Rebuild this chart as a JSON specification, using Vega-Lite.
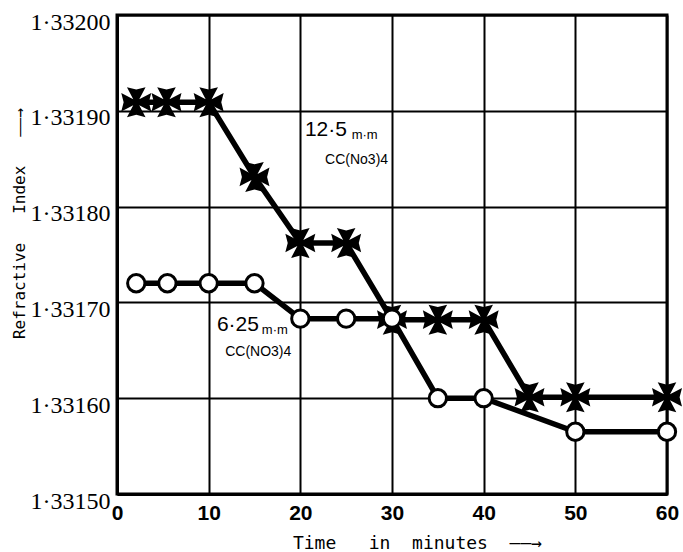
{
  "$schema": "https://vega.github.io/schema/vega-lite/v6.json",
  "width": 550,
  "height": 479,
  "autosize": "none",
  "padding": {"left": 117, "top": 15, "right": 16, "bottom": 58},
  "background": "white",
  "config": {
    "view": {"stroke": "black", "strokeWidth": 3},
    "axis": {"gridColor": "black", "gridOpacity": 1, "gridWidth": 2, "domainColor": "black", "domainWidth": 3, "ticks": false, "labelColor": "black", "titleColor": "black"}
  },
  "datasets": {
    "main": [
      {"series": "12.5", "t": 2.1, "v": 1.331909},
      {"series": "12.5", "t": 5.4, "v": 1.331909},
      {"series": "12.5", "t": 10, "v": 1.331909},
      {"series": "12.5", "t": 15, "v": 1.331831},
      {"series": "12.5", "t": 20, "v": 1.331762},
      {"series": "12.5", "t": 25, "v": 1.331762},
      {"series": "12.5", "t": 30, "v": 1.331682},
      {"series": "12.5", "t": 35, "v": 1.331682},
      {"series": "12.5", "t": 40, "v": 1.331682},
      {"series": "12.5", "t": 45, "v": 1.331601},
      {"series": "12.5", "t": 50, "v": 1.331601},
      {"series": "12.5", "t": 60, "v": 1.331601},
      {"series": "6.25", "t": 2.1, "v": 1.33172},
      {"series": "6.25", "t": 5.5, "v": 1.33172},
      {"series": "6.25", "t": 10, "v": 1.33172},
      {"series": "6.25", "t": 15, "v": 1.33172},
      {"series": "6.25", "t": 20, "v": 1.331683},
      {"series": "6.25", "t": 25, "v": 1.331683},
      {"series": "6.25", "t": 30, "v": 1.331683},
      {"series": "6.25", "t": 35, "v": 1.3316},
      {"series": "6.25", "t": 40, "v": 1.3316},
      {"series": "6.25", "t": 50, "v": 1.331565},
      {"series": "6.25", "t": 60, "v": 1.331565}
    ],
    "notes": [
      {"label": "12·5", "kind": "num", "t": 20.5, "v": 1.33188},
      {"label": "m·m", "kind": "unit", "t": 25.6, "v": 1.331875},
      {"label": "CC(No3)4", "kind": "chem", "t": 22.7, "v": 1.331849},
      {"label": "6·25", "kind": "num", "t": 10.9, "v": 1.331676},
      {"label": "m·m", "kind": "unit", "t": 15.8, "v": 1.331671},
      {"label": "CC(NO3)4", "kind": "chem", "t": 11.8, "v": 1.331648}
    ]
  },
  "layer": [
    {
      "data": {"name": "main"},
      "mark": {"type": "line", "color": "black", "strokeWidth": 5.5},
      "encoding": {
        "x": {
          "field": "t", "type": "quantitative",
          "scale": {"domain": [0, 60], "nice": false},
          "axis": {
            "values": [0, 10, 20, 30, 40, 50, 60],
            "title": "Time\u00a0\u00a0\u00a0in\u00a0\u00a0minutes\u00a0\u00a0\u2014\u2014\u2192",
            "labelFont": "Liberation Sans", "labelFontSize": 21, "labelFontWeight": "bold",
            "labelPadding": 8, "labelFlush": false,
            "titleFont": "DejaVu Sans Mono", "titleFontSize": 18, "titleFontWeight": "normal",
            "titleX": 300, "titleY": 49, "titleBaseline": "middle", "titleAlign": "center"
          }
        },
        "y": {
          "field": "v", "type": "quantitative",
          "scale": {"domain": [1.3315, 1.332], "zero": false, "nice": false},
          "axis": {
            "values": [1.3315, 1.3316, 1.3317, 1.3318, 1.3319, 1.332],
            "labelExpr": "replace(format(datum.value, '.5f'), '.', '·')",
            "title": "Refractive\u00a0\u00a0\u00a0Index\u00a0\u00a0\u00a0\u2014\u2014\u2192",
            "labelFont": "Liberation Serif", "labelFontSize": 24,
            "labelPadding": 7, "labelBaseline": "middle", "labelOffset": 7,
            "titleFont": "DejaVu Sans Mono", "titleFontSize": 16, "titleFontWeight": "normal",
            "titleX": -98, "titleY": 208, "titleAngle": -90, "titleBaseline": "middle", "titleAlign": "center"
          }
        },
        "detail": {"field": "series", "type": "nominal"}
      }
    },
    {
      "data": {"name": "main"},
      "transform": [{"filter": "datum.series === '12.5'"}],
      "mark": {
        "type": "point", "filled": true, "color": "black", "opacity": 1, "size": 900,
        "shape": "M-0.2,-0.2L-0.62,-1L0,-0.84L0.62,-1L0.2,-0.2L1,-0.62L0.84,0L1,0.62L0.2,0.2L0.62,1L0,0.84L-0.62,1L-0.2,0.2L-1,0.62L-0.84,0L-1,-0.62Z"
      },
      "encoding": {
        "x": {"field": "t", "type": "quantitative"},
        "y": {"field": "v", "type": "quantitative"}
      }
    },
    {
      "data": {"name": "main"},
      "transform": [{"filter": "datum.series === '6.25'"}],
      "mark": {"type": "point", "shape": "circle", "filled": true, "fill": "white", "stroke": "black", "strokeWidth": 3, "opacity": 1, "size": 300},
      "encoding": {
        "x": {"field": "t", "type": "quantitative"},
        "y": {"field": "v", "type": "quantitative"}
      }
    },
    {
      "data": {"name": "notes"},
      "transform": [{"filter": "datum.kind === 'num'"}],
      "mark": {"type": "text", "align": "left", "baseline": "middle", "font": "Liberation Sans", "fontSize": 21, "color": "black"},
      "encoding": {
        "x": {"field": "t", "type": "quantitative"},
        "y": {"field": "v", "type": "quantitative"},
        "text": {"field": "label"}
      }
    },
    {
      "data": {"name": "notes"},
      "transform": [{"filter": "datum.kind === 'unit'"}],
      "mark": {"type": "text", "align": "left", "baseline": "middle", "font": "Liberation Sans", "fontSize": 13, "color": "black"},
      "encoding": {
        "x": {"field": "t", "type": "quantitative"},
        "y": {"field": "v", "type": "quantitative"},
        "text": {"field": "label"}
      }
    },
    {
      "data": {"name": "notes"},
      "transform": [{"filter": "datum.kind === 'chem'"}],
      "mark": {"type": "text", "align": "left", "baseline": "middle", "font": "Liberation Sans", "fontSize": 14, "color": "black"},
      "encoding": {
        "x": {"field": "t", "type": "quantitative"},
        "y": {"field": "v", "type": "quantitative"},
        "text": {"field": "label"}
      }
    }
  ]
}
